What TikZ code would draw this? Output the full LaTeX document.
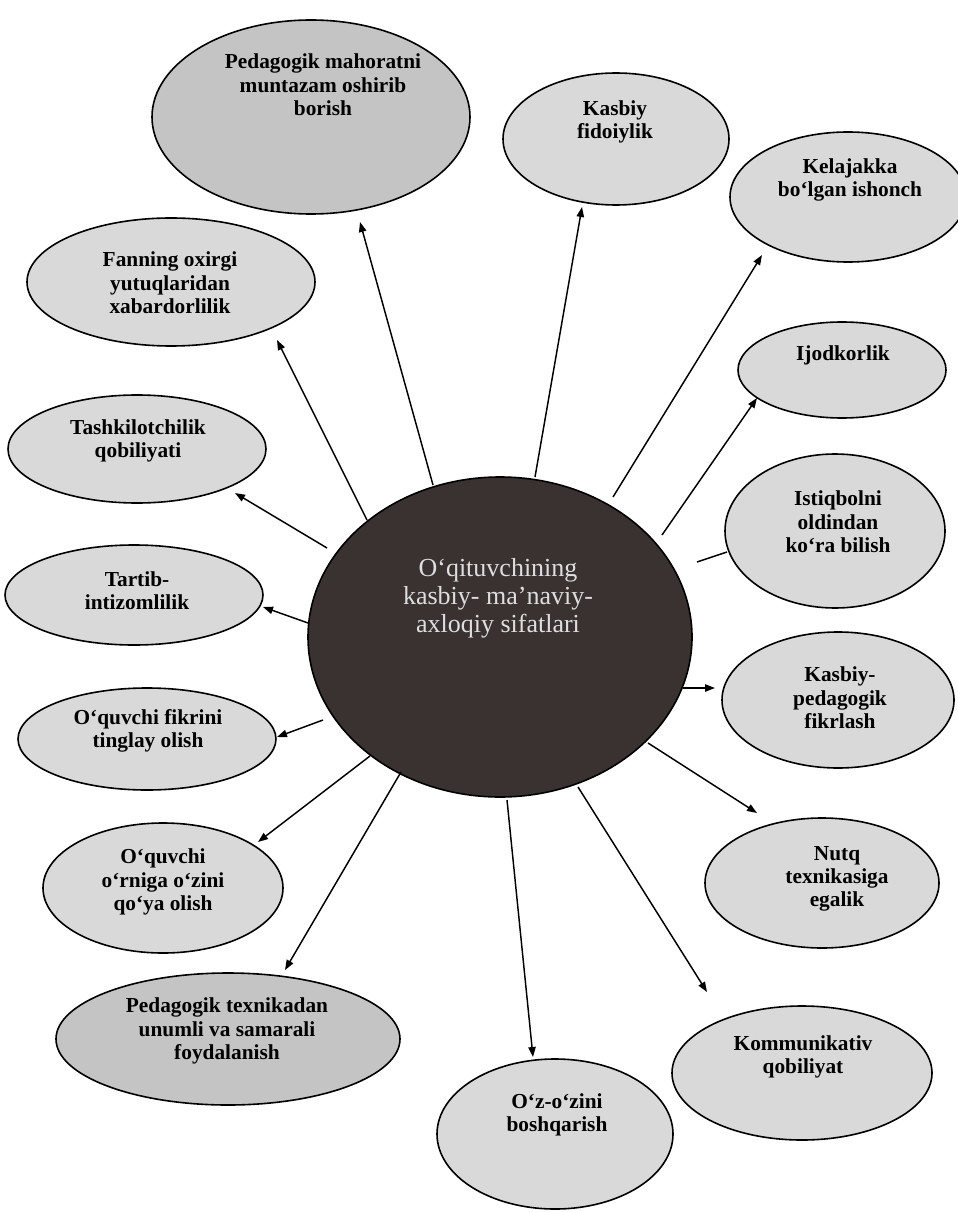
\documentclass[tikz,border=0pt]{standalone}
\usepackage{fontspec}
\setmainfont{Liberation Serif}
\usetikzlibrary{arrows.meta,shapes.geometric}
\definecolor{lightfill}{HTML}{D9D9D9}
\definecolor{darkfill}{HTML}{C4C4C4}
\definecolor{corefill}{HTML}{3A3131}
\definecolor{coretext}{HTML}{DEDEDE}
\tikzset{
  ell/.style={ellipse, draw=black, line width=1.2pt, fill=lightfill, inner sep=0pt},
  dell/.style={ell, fill=darkfill},
  lbl/.style={align=center, font=\fontsize{16}{17.5}\selectfont\bfseries, inner sep=0pt},
  arr/.style={line width=1.1pt, -{Triangle[length=7.5pt,width=5.5pt]}},
  plain/.style={line width=1.1pt}
}
\begin{document}
\begin{tikzpicture}[x=0.75pt,y=-0.75pt]
\useasboundingbox (0,0) rectangle (957,1212);
\fill[white] (0,0) rectangle (957,1212);

% outer ellipses
\node[dell, minimum width=238.5pt, minimum height=145.5pt] (pm) at (311,117) {};
\node[ell, minimum width=169.5pt, minimum height=99pt] (kf) at (616,139) {};
\node[ell, minimum width=177pt, minimum height=97.5pt] (ki) at (848,197) {};
\node[ell, minimum width=156pt, minimum height=72pt] (ij) at (842,370) {};
\node[ell, minimum width=165pt, minimum height=115.5pt] (is) at (835,531) {};
\node[ell, minimum width=174pt, minimum height=102pt] (kp) at (838,700) {};
\node[ell, minimum width=175.5pt, minimum height=97.5pt] (nt) at (822,883) {};
\node[ell, minimum width=195pt, minimum height=100.5pt] (km) at (802,1073) {};
\node[ell, minimum width=177pt, minimum height=112.5pt] (oz) at (555,1134) {};
\node[dell, minimum width=258pt, minimum height=99pt] (pt) at (228,1039) {};
\node[ell, minimum width=180pt, minimum height=97.5pt] (oo) at (163,888) {};
\node[ell, minimum width=193.5pt, minimum height=76.5pt] (of) at (147,739) {};
\node[ell, minimum width=193.5pt, minimum height=75pt] (tt) at (134,595) {};
\node[ell, minimum width=193.5pt, minimum height=81pt] (ts) at (137,449) {};
\node[ell, minimum width=216pt, minimum height=96pt] (fo) at (171,282) {};

% central ellipse
\node[ellipse, draw=black, line width=1.2pt, fill=corefill, inner sep=0pt,
      minimum width=288pt, minimum height=240pt] (core) at (500,637) {};
\node[align=center, text=coretext, inner sep=0pt,
      font=\fontsize{19.5}{21}\selectfont] (coret) at (498,598)
  {O‘qituvchining\\kasbiy- ma’naviy-\\axloqiy sifatlari};

% labels
\node[lbl] (pmt) at (323,85) {Pedagogik mahoratni\\muntazam oshirib\\borish};
\node[lbl] (kft) at (615,122) {Kasbiy\\fidoiylik};
\node[lbl] (kit) at (850,180) {Kelajakka\\bo‘lgan ishonch};
\node[lbl] (ijt) at (843,355) {Ijodkorlik};
\node[lbl] (ist) at (838,522) {Istiqbolni\\oldindan\\ko‘ra bilish};
\node[lbl] (kpt) at (840,698) {Kasbiy-\\pedagogik\\fikrlash};
\node[lbl] (ntt) at (837,879) {Nutq\\texnikasiga\\egalik};
\node[lbl] (kmt) at (803,1057) {Kommunikativ\\qobiliyat};
\node[lbl] (ozt) at (557,1115) {O‘z-o‘zini\\boshqarish};
\node[lbl] (ptt) at (227,1031) {Pedagogik texnikadan\\unumli va samarali\\foydalanish};
\node[lbl] (oot) at (163,882) {O‘quvchi\\o‘rniga o‘zini\\qo‘ya olish};
\node[lbl] (oft) at (148,731) {O‘quvchi fikrini\\tinglay olish};
\node[lbl] (ttt) at (137,591) {Tartib-\\intizomlilik};
\node[lbl] (tst) at (138,441) {Tashkilotchilik\\qobiliyati};
\node[lbl] (fot) at (170,283) {Fanning oxirgi\\yutuqlaridan\\xabardorlilik};

% connector end points
\coordinate (s1) at (433,485);  \coordinate (e1) at (360,222);
\coordinate (s2) at (535,477);  \coordinate (e2) at (582,207);
\coordinate (s3) at (613,497);  \coordinate (e3) at (762,255);
\coordinate (s4) at (662,535);  \coordinate (e4) at (757,398);
\coordinate (s5) at (697,562);  \coordinate (e5) at (727,552);
\coordinate (s6) at (683,688);  \coordinate (e6) at (715,688);
\coordinate (s7) at (648,743);  \coordinate (e7) at (757,813);
\coordinate (s8) at (578,787);  \coordinate (e8) at (707,992);
\coordinate (s9) at (507,800);  \coordinate (e9) at (533,1057);
\coordinate (s10) at (401,772); \coordinate (e10) at (285,970);
\coordinate (s11) at (370,756); \coordinate (e11) at (258,842);
\coordinate (s12) at (323,720); \coordinate (e12) at (277,737);
\coordinate (s13) at (308,623); \coordinate (e13) at (263,607);
\coordinate (s14) at (327,548); \coordinate (e14) at (235,493);
\coordinate (s15) at (367,520); \coordinate (e15) at (277,340);

\draw[arr] (s1) -- (e1);
\draw[arr] (s2) -- (e2);
\draw[arr] (s3) -- (e3);
\draw[arr] (s4) -- (e4);
\draw[plain] (s5) -- (e5);
\draw[arr] (s6) -- (e6);
\draw[arr] (s7) -- (e7);
\draw[arr] (s8) -- (e8);
\draw[arr] (s9) -- (e9);
\draw[arr] (s10) -- (e10);
\draw[arr] (s11) -- (e11);
\draw[arr] (s12) -- (e12);
\draw[arr] (s13) -- (e13);
\draw[arr] (s14) -- (e14);
\draw[arr] (s15) -- (e15);
\end{tikzpicture}
\end{document}
